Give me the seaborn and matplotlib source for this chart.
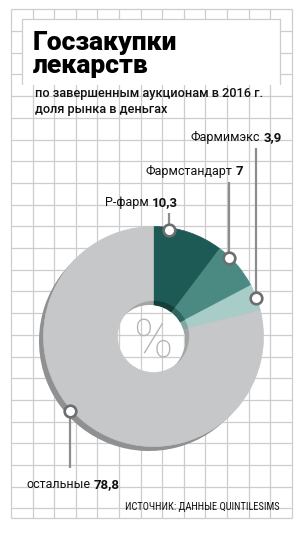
import numpy as np
import matplotlib
matplotlib.use("Agg")
import matplotlib.pyplot as plt
from matplotlib import font_manager
from matplotlib.patches import Circle, Rectangle
import seaborn as sns

# data
names = ["Р-фарм", "Фармстандарт", "Фармимэкс", "остальные"]
shares = [10.3, 7.0, 3.9, 78.8]
value_labels = ["10,3", "7", "3,9", "78,8"]
title_lines = ["Госзакупки", "лекарств"]
subtitle_lines = ["по завершенным аукционам в 2016 г.", "доля рынка в деньгах"]
source = "ИСТОЧНИК: ДАННЫЕ QUINTILESIMS"

colors = ["#1e5a55", "#4a8a82", "#a8ccc8", "#c6c7c9"]
wall_colors = ["#143f3b", "#2f6660", "#7fa8a3", "#a3a4a6"]
shadow_color = "#8f9092"
grid_color = "#cdcdcd"

sns.set_theme(style="white")
installed = {f.name for f in font_manager.fontManager.ttflist}
narrow = [f for f in ["DejaVu Sans Condensed", "Liberation Sans Narrow", "Roboto Condensed"] if f in installed]
plt.rcParams["font.family"] = ["Roboto", "DejaVu Sans"]
narrow_fam = narrow + ["Roboto", "DejaVu Sans"]

W, H = 303, 536
fig = plt.figure(figsize=(W / 100, H / 100), dpi=100)
ax = fig.add_axes([0, 0, 1, 1])

# grid background
gx = 11 + 21.6 * np.arange(14)
gy = 9.3 + 21.7 * np.arange(24)
gy = gy[gy < 513]
ax.vlines(gx, 9.3, 518, color=grid_color, lw=0.9, zorder=1)
ax.hlines(list(gy) + [518], 11, gx[-1], color=grid_color, lw=0.9, zorder=1)

# title box
ax.add_patch(Rectangle((22, 19), 258, 66, facecolor="white", edgecolor="none", zorder=1.5))
ax.plot([22, 22, 280, 280], [84, 19, 19, 84], color=grid_color, lw=0.9, zorder=1.6)

cx, cy, R, r_in = 153.5, 336.5, 110, 36
off = (-4.5, 4.5)

# shadow under the donut
ax.pie(shares, colors=[shadow_color] * 4, startangle=-90, counterclock=True,
       radius=R, center=(cx + off[0], cy + off[1]), wedgeprops=dict(linewidth=0))
# inner wall seen through the hole
wall, _ = ax.pie(shares, colors=wall_colors, startangle=-90, counterclock=True,
                 radius=r_in + 1, center=(cx, cy), wedgeprops=dict(linewidth=0))
for w in wall:
    w.set_zorder(3)
ground = Circle((cx + off[0] + 0.5, cy + off[1] - 0.5), r_in - 0.5, facecolor="white", edgecolor="none", zorder=4)
ax.add_patch(ground)
vl = ax.vlines(gx, 9.3, 518, color=grid_color, lw=0.9, zorder=4.5)
hl = ax.hlines(gy, 11, gx[-1], color=grid_color, lw=0.9, zorder=4.5)
vl.set_clip_path(ground)
hl.set_clip_path(ground)
ax.text(cx - 0.5, cy + 6, "%", fontsize=38, color="#b5b5b5", fontweight="light",
        ha="center", va="center", zorder=5)

# main donut
wedges, _ = ax.pie(shares, colors=colors, startangle=-90, counterclock=True,
                   radius=R, center=(cx, cy), wedgeprops=dict(width=R - r_in))
for w in wedges:
    w.set_zorder(6)
    w.set_edgecolor(w.get_facecolor())
    w.set_linewidth(0.5)

# markers on the rim and leader lines
anchor_pos = [0.22, 0.26, 0.5, 0.535]
mark_r = [108, 109, 110, 112]
line_end = [213, 182, 148, 468]
split_x = [150.5, 234, 262, 92.5]
label_y = [206, 175, 141, 488]

start = np.concatenate([[0], np.cumsum(shares)[:-1]])
ang = np.deg2rad(90 - 3.6 * (start + np.array(anchor_pos) * np.array(shares)))
mx = cx + np.array(mark_r) * np.cos(ang)
my = cy - np.array(mark_r) * np.sin(ang)

ax.vlines(mx, my, line_end, color="#8c8d8f", lw=1.6, zorder=7)
sns.scatterplot(x=mx, y=my, ax=ax, s=70, color="white", edgecolor="#6d6e70",
                linewidth=1.9, zorder=8, legend=False)

for i in range(len(names)):
    ax.text(split_x[i] - 2, label_y[i], names[i], fontsize=9, color="#111111",
            ha="right", va="baseline", zorder=9)
    ax.text(split_x[i] + 1.5, label_y[i], value_labels[i], fontsize=9.5, color="#111111",
            fontweight="bold", ha="left", va="baseline", zorder=9)

# titles
ax.text(33, 50, title_lines[0], fontsize=19, fontweight="black", color="black",
        ha="left", va="baseline", zorder=9)
ax.text(33, 73, title_lines[1], fontsize=19, fontweight="black", color="black",
        ha="left", va="baseline", zorder=9)
ax.text(35, 97, subtitle_lines[0], fontsize=9.2, fontweight="medium", color="#111111",
        ha="left", va="baseline", zorder=9)
ax.text(35, 113, subtitle_lines[1], fontsize=9.2, fontweight="medium", color="#111111",
        ha="left", va="baseline", zorder=9)
ax.text(280, 510, source, fontsize=7.5, color="#111111", family=narrow_fam,
        ha="right", va="baseline", zorder=9)

ax.set_xlim(0, W)
ax.set_ylim(H, 0)
ax.set_aspect("auto")
ax.axis("off")
fig.savefig("out.png", dpi=100, facecolor="white")
